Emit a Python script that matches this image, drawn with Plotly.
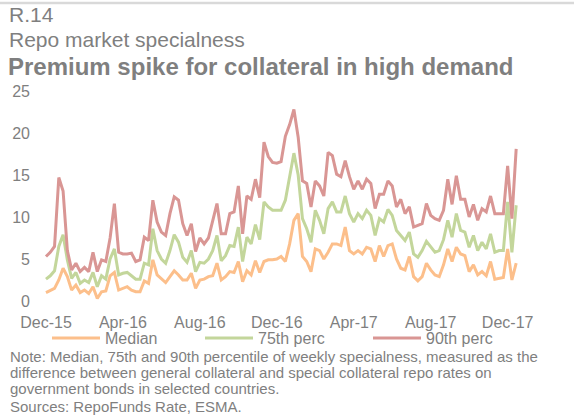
import plotly.graph_objects as go
import pandas as pd

# ---- data (weekly repo specialness) ----
median = [1.0, 1.3, 1.5, 2.5, 3.9, 2.9, 1.3, 1.9, 1.0, 1.3,
          0.9, 1.7, 0.3, 1.1, 1.2, 3.0, 3.4, 1.3, 1.5, 1.7,
          1.3, 1.1, 1.1, 2.4, 2.1, 4.9, 3.1, 2.6, 2.2, 2.9,
          3.6, 3.1, 2.5, 2.5, 3.3, 1.5, 2.5, 2.6, 2.9, 3.0,
          4.5, 2.5, 2.9, 3.5, 3.4, 4.7, 2.3, 3.6, 3.1, 4.8,
          3.4, 4.7, 4.9, 4.9, 5.0, 5.3, 4.7, 6.8, 9.6, 10.4,
          5.3, 4.7, 3.5, 6.2, 6.0, 5.0, 5.8, 6.8, 6.8, 6.6,
          8.8, 6.0, 5.6, 6.0, 5.6, 6.4, 6.2, 4.7, 6.6, 5.3,
          6.6, 6.8, 5.0, 3.9, 3.7, 5.3, 2.9, 2.4, 2.9, 4.5,
          3.7, 3.1, 2.9, 4.3, 6.2, 4.7, 6.4, 5.6, 5.4, 3.5,
          4.3, 3.1, 3.5, 3.0, 4.7, 2.6, 2.7, 2.8, 6.2, 2.5,
          4.5]
perc75 = [2.6, 3.0, 3.6, 6.5, 7.9, 4.9, 2.7, 3.4, 2.1, 2.5,
          2.2, 3.4, 1.7, 3.0, 2.6, 5.0, 6.2, 3.1, 3.3, 3.4,
          3.0, 2.6, 2.6, 4.5, 4.3, 8.6, 6.0, 5.0, 4.5, 6.0,
          7.9, 7.0, 5.2, 4.6, 6.0, 3.5, 4.6, 4.5, 5.0, 6.0,
          7.8, 4.8, 5.4, 6.6, 6.5, 8.8, 4.7, 7.6, 6.8, 9.1,
          7.3, 11.8, 11.2, 10.8, 10.8, 10.8, 12.0, 14.8, 17.6, 15.0,
          9.8, 8.6, 7.0, 10.8, 9.6, 8.0, 11.0, 11.8, 10.6, 10.6,
          12.5, 10.4, 9.4, 10.4, 9.8, 10.8, 10.2, 7.8, 9.8, 9.4,
          10.9, 10.2, 8.4, 7.8, 7.2, 8.2, 5.6, 5.2, 6.0, 7.1,
          6.4, 5.8, 6.0, 7.3, 9.6, 7.6, 10.4, 8.4, 8.2, 6.4,
          7.8, 6.0, 7.0, 6.2, 8.0, 5.8, 6.0, 6.0, 11.8, 5.8,
          11.4]
perc90 = [5.3, 5.8, 6.5, 14.7, 13.1, 6.0, 3.7, 4.5, 3.5, 4.0,
          3.5, 5.8, 3.5, 4.9, 4.7, 7.5, 11.6, 5.8, 5.6, 5.6,
          5.7, 4.7, 4.9, 7.6, 7.2, 12.0, 9.4, 8.2, 7.8, 10.4,
          12.4, 12.0, 9.2, 7.8, 9.2, 5.9, 7.5, 6.8, 7.5, 9.5,
          11.6, 8.0, 8.0, 10.4, 10.6, 13.7, 8.0, 12.5, 12.1, 14.5,
          12.3, 18.9, 17.2, 16.5, 16.4, 16.6, 19.6, 21.0, 22.8, 19.5,
          14.3, 14.0, 11.2, 14.3, 13.7, 12.5, 17.7, 17.3, 15.1, 14.8,
          16.7, 14.8, 13.3, 14.3, 13.3, 14.5, 14.0, 11.0, 12.7, 12.7,
          14.3, 13.7, 11.2, 12.1, 10.4, 11.2, 8.8, 9.0, 9.2, 11.6,
          10.2, 9.8, 9.6, 10.8, 14.5, 11.5, 14.9, 12.1, 12.1, 10.0,
          11.5, 9.6, 11.0, 10.6, 12.5, 10.4, 10.4, 10.4, 16.1, 9.8,
          18.1]

series_names = ["Median", "75th perc", "90th perc"]
tick_labels = ["Dec-15", "Apr-16", "Aug-16", "Dec-16", "Apr-17", "Aug-17", "Dec-17"]
y_ticks = [0, 5, 10, 15, 20, 25]

title_num = "R.14"
title_sub = "Repo market specialness"
title_main = "Premium spike for collateral in high demand"
note_lines = [
    "Note: Median, 75th and 90th percentile of weekly specialness, measured as the",
    "difference between general collateral and special collateral repo rates on",
    "government bonds in selected countries.",
]
source_line = "Sources: RepoFunds Rate, ESMA."

# ---- styles ----
colors = ["#FCBF8B", "#C3D69B", "#D99694"]
grey = "#7f7f7f"
FONT = "Liberation Sans, Arial, sans-serif"

W, H = 574, 416
L, R, T, B = 40, 34, 91, 115
PW, PH = W - L - R, H - T - B


def px_x(px):
    return (px - L) / PW


def px_y(py):
    return (H - B - py) / PH


dates = pd.date_range("2015-12-04", periods=len(median), freq="7D")
tick_vals = list(dates[::18])[: len(tick_labels)]

fig = go.Figure()
legend_ids = ["legend", "legend2", "legend3"]
for vals, name, col, lg in zip([median, perc75, perc90], series_names, colors, legend_ids):
    fig.add_trace(go.Scatter(
        x=dates, y=vals, name=name, mode="lines",
        line=dict(color=col, width=3),
        legend=lg, hoverinfo="skip",
    ))

legend_common = dict(
    orientation="h", yanchor="middle", xanchor="left",
    font=dict(family=FONT, size=16, color=grey),
    bgcolor="rgba(0,0,0,0)", borderwidth=0, itemwidth=48,
)
leg_text_x = [118, 271, 439]
leg_y = px_y(338)

annotations = []
def add_text(txt, x_px, y_px, size, bold=False):
    annotations.append(dict(
        text=f"<b>{txt}</b>" if bold else txt,
        xref="paper", yref="paper", x=px_x(x_px), y=px_y(y_px),
        xanchor="left", yanchor="middle", showarrow=False,
        font=dict(family=FONT, size=size, color=grey),
    ))

add_text(title_num, 7, 14, 21)
add_text(title_sub, 7, 40, 21)
add_text(title_main, 6, 66, 24, bold=True)
for i, ln in enumerate(note_lines):
    add_text(ln, 8, 356 + 16 * i, 15)
add_text(source_line, 8, 406, 15)

x0 = dates[0]
fig.update_layout(
    width=W, height=H, autosize=False,
    margin=dict(l=L, r=R, t=T, b=B, pad=0),
    paper_bgcolor="white", plot_bgcolor="white",
    font=dict(family=FONT, color=grey),
    showlegend=True,
    legend=dict(x=px_x(leg_text_x[0] - 71), y=leg_y, **legend_common),
    legend2=dict(x=px_x(leg_text_x[1] - 71), y=leg_y, **legend_common),
    legend3=dict(x=px_x(leg_text_x[2] - 71), y=leg_y, **legend_common),
    xaxis=dict(
        type="date",
        range=[x0 - pd.Timedelta(days=9.8), x0 + pd.Timedelta(days=809)],
        tickvals=tick_vals, ticktext=tick_labels,
        showgrid=False, zeroline=False, showline=False, ticks="",
        ticklabelstandoff=10,
        tickfont=dict(family=FONT, size=16, color=grey),
    ),
    yaxis=dict(
        range=[0, 25], tickvals=y_ticks,
        showgrid=False, zeroline=False, showline=False, ticks="",
        ticklabelstandoff=9,
        tickfont=dict(family=FONT, size=16, color=grey),
    ),
    shapes=[dict(type="line", xref="paper", yref="paper",
                 x0=px_x(0), x1=px_x(W), y0=px_y(3), y1=px_y(3),
                 line=dict(color="#d9d9d9", width=2.5))],
    annotations=annotations,
)

fig.write_html(
    "out.html",
    config={"displayModeBar": False, "staticPlot": True},
    post_script="document.body.style.margin='0';document.body.style.overflow='hidden';",
)
